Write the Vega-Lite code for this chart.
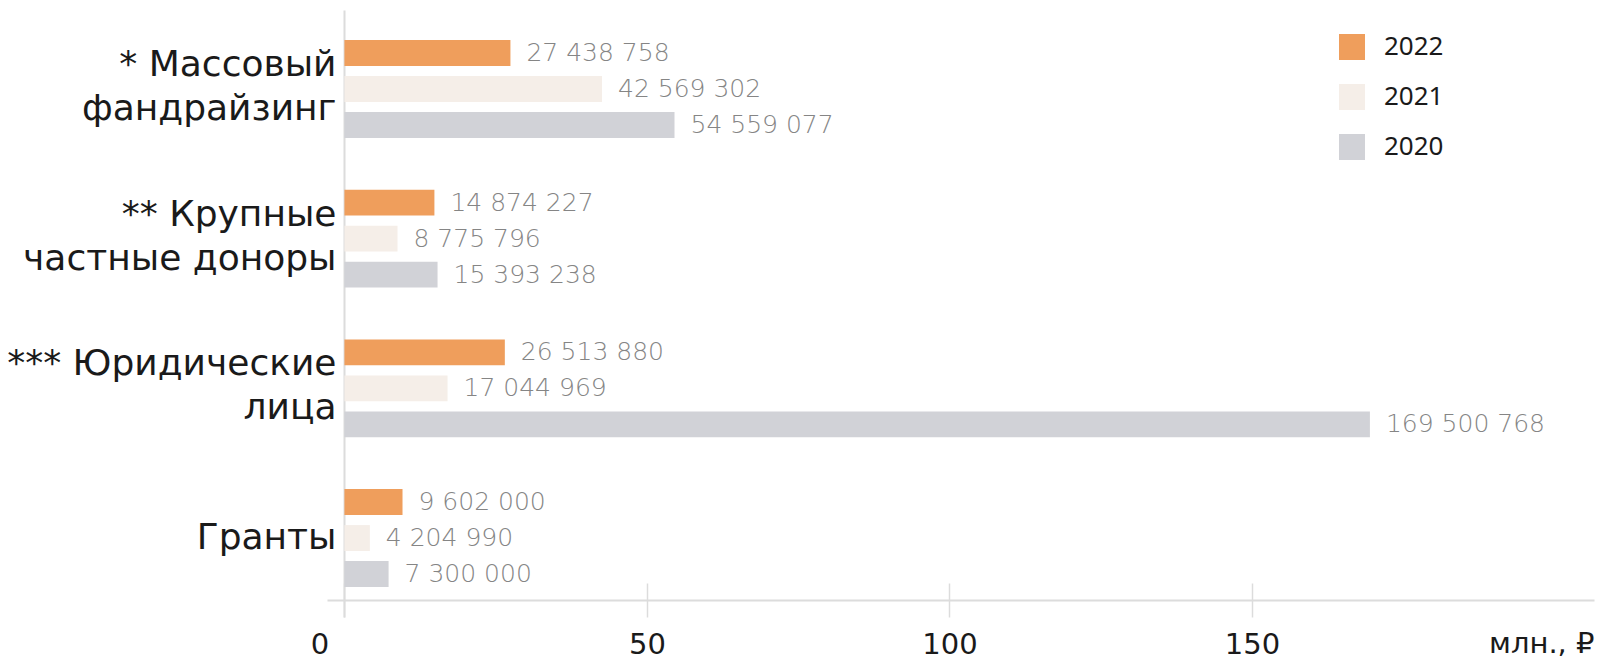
{
  "$schema": "https://vega.github.io/schema/vega-lite/v6.json",
  "width": 1267,
  "height": 607,
  "autosize": "none",
  "padding": {"left": 327, "top": 10, "right": 4, "bottom": 42},
  "background": "white",
  "config": {
    "view": {"stroke": null},
    "font": "DejaVu Sans",
    "locale": {"number": {"decimal": ",", "thousands": " ", "grouping": [3], "currency": ["", " ₽"]}}
  },
  "data": {
    "values": [
      {"category": "* Массовый|фандрайзинг", "year": "2022", "value": 27438758},
      {"category": "* Массовый|фандрайзинг", "year": "2021", "value": 42569302},
      {"category": "* Массовый|фандрайзинг", "year": "2020", "value": 54559077},
      {"category": "** Крупные|частные доноры", "year": "2022", "value": 14874227},
      {"category": "** Крупные|частные доноры", "year": "2021", "value": 8775796},
      {"category": "** Крупные|частные доноры", "year": "2020", "value": 15393238},
      {"category": "*** Юридические|лица", "year": "2022", "value": 26513880},
      {"category": "*** Юридические|лица", "year": "2021", "value": 17044969},
      {"category": "*** Юридические|лица", "year": "2020", "value": 169500768},
      {"category": "Гранты", "year": "2022", "value": 9602000},
      {"category": "Гранты", "year": "2021", "value": 4204990},
      {"category": "Гранты", "year": "2020", "value": 7300000}
    ]
  },
  "encoding": {
    "y": {
      "field": "category",
      "type": "nominal",
      "sort": ["* Массовый|фандрайзинг", "** Крупные|частные доноры", "*** Юридические|лица", "Гранты"],
      "scale": {"paddingInner": 0.2786, "paddingOuter": 0.1667},
      "axis": {
        "title": null,
        "orient": "left",
        "offset": -17,
        "domain": true,
        "domainColor": "#dcdcdc",
        "domainWidth": 2,
        "ticks": false,
        "grid": false,
        "labelFont": "DejaVu Sans",
        "labelFontSize": 36,
        "labelColor": "#1a1a1a",
        "labelPadding": 8,
        "labelLimit": 400,
        "labelLineHeight": 44,
        "labelOffset": {"condition": {"test": "datum.value != 'Гранты'", "value": -24}, "value": 0},
        "labelExpr": "split(datum.label, '|')"
      }
    },
    "yOffset": {
      "field": "year",
      "type": "nominal",
      "sort": ["2022", "2021", "2020"],
      "scale": {"paddingInner": 0.28, "paddingOuter": 0.14}
    }
  },
  "layer": [
    {
      "mark": {"type": "bar"},
      "encoding": {
        "x": {
          "field": "value",
          "type": "quantitative",
          "scale": {"domain": [-2880000, 206540000], "nice": false},
          "axis": {
            "orient": "bottom",
            "offset": -17,
            "domain": true,
            "domainColor": "#dcdcdc",
            "domainWidth": 2,
            "ticks": false,
            "grid": false,
            "values": [0, 50000000, 100000000, 150000000],
            "labelExpr": "datum.value / 1000000",
            "labelFont": "DejaVu Sans",
            "labelFontSize": 29,
            "labelColor": "#1a1a1a",
            "labelPadding": 44,
            "labelBaseline": "middle",
            "labelOffset": {"condition": {"test": "datum.value == 0", "value": -25}, "value": 0},
            "title": "млн., ₽",
            "titleFont": "DejaVu Sans",
            "titleFontSize": 29,
            "titleFontWeight": "normal",
            "titleColor": "#1a1a1a",
            "titleAnchor": "end",
            "titleAlign": "right",
            "titleBaseline": "middle",
            "titleY": 43
          }
        },
        "color": {
          "field": "year",
          "type": "nominal",
          "scale": {"domain": ["2022", "2021", "2020"], "range": ["#EF9E5C", "#F5EEE8", "#D1D2D7"]},
          "legend": {
            "title": null,
            "orient": "none",
            "legendX": 1012,
            "legendY": 24,
            "padding": 0,
            "symbolType": "square",
            "symbolSize": 676,
            "symbolStrokeWidth": 0,
            "labelFont": "Noto Sans",
            "labelFontSize": 26,
            "labelColor": "#1a1a1a",
            "labelOffset": 19,
            "rowPadding": 24
          }
        }
      }
    },
    {
      "mark": {"type": "text", "align": "left", "baseline": "middle", "dx": 16, "fontSize": 25, "font": "DejaVu Sans", "fontWeight": 300, "color": "#858585"},
      "encoding": {
        "x": {
          "field": "value",
          "type": "quantitative",
          "axis": {
            "orient": "bottom",
            "domain": false,
            "labels": false,
            "ticks": true,
            "tickSize": -34,
            "tickColor": "#dcdcdc",
            "tickWidth": 1.5,
            "grid": false,
            "values": [0, 50000000, 100000000, 150000000],
            "title": null
          }
        },
        "text": {"field": "value", "type": "quantitative", "format": ",d"}
      }
    }
  ],
  "resolve": {"axis": {"x": "independent"}}
}
